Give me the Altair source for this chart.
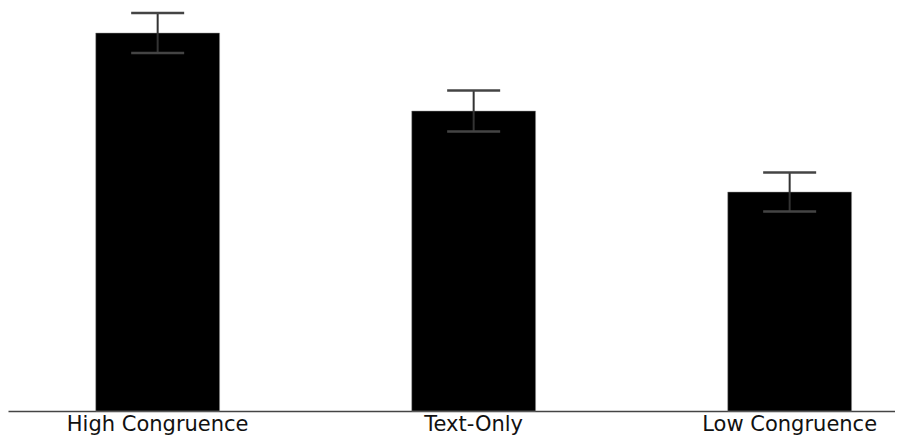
import altair as alt
import pandas as pd

conditions = ["High Congruence", "Text-Only", "Low Congruence"]
means = [3.78, 3.00, 2.19]
errors = [0.20, 0.205, 0.195]

df = pd.DataFrame({
    "condition": conditions,
    "mean": means,
    "lo": [m - e for m, e in zip(means, errors)],
    "hi": [m + e for m, e in zip(means, errors)],
})

xscale = alt.Scale(paddingInner=0.608, paddingOuter=0.2075, align=0.669)
yscale = alt.Scale(domain=[0, 4.03], nice=False, zero=True)

x = alt.X("condition:N", sort=None, scale=xscale, title=None,
          axis=alt.Axis(labelAngle=0, ticks=False, domainColor="#444444",
                        domainWidth=1.5, labelFont="DejaVu Sans", labelFontSize=21,
                        labelColor="#111111", labelPadding=2, labelLimit=0,
                        labelBaseline="top", grid=False))

bars = alt.Chart(df).mark_bar(color="black", stroke="#999999", strokeWidth=0.5).encode(
    x=x,
    y=alt.Y("mean:Q", scale=yscale, axis=None),
)

rules = alt.Chart(df).mark_rule(color="#333333", strokeWidth=2).encode(
    x=alt.X("condition:N", sort=None, scale=xscale),
    y=alt.Y("lo:Q", scale=yscale),
    y2="hi:Q",
)

caps_hi = alt.Chart(df).mark_tick(color="#444444", size=53, thickness=2.5, opacity=1).encode(
    x=alt.X("condition:N", sort=None, scale=xscale),
    y=alt.Y("hi:Q", scale=yscale),
)
caps_lo = alt.Chart(df).mark_tick(color="#444444", size=53, thickness=2.5, opacity=1).encode(
    x=alt.X("condition:N", sort=None, scale=xscale),
    y=alt.Y("lo:Q", scale=yscale),
)

chart = alt.layer(bars, rules, caps_hi, caps_lo).properties(
    width=887, height=403,
    autosize=alt.AutoSizeParams(type="none"),
    padding={"left": 0, "top": 0, "right": 0, "bottom": 26},
).configure(background="white", view=alt.ViewConfig(stroke=None))

chart.save("out.html", embed_options={"renderer": "svg", "actions": False})
